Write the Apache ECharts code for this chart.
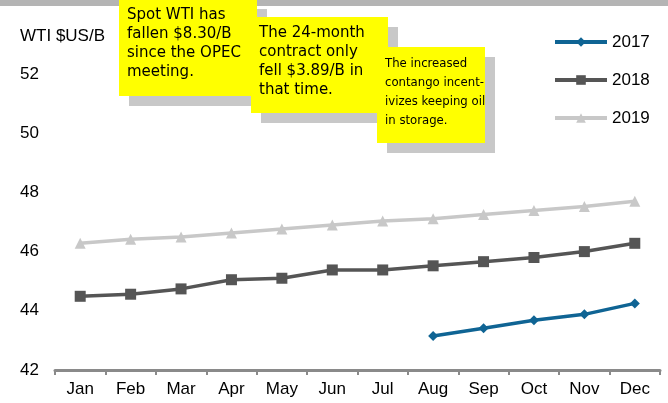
<!DOCTYPE html>
<html>
<head>
<meta charset="utf-8">
<script src="https://cdn.jsdelivr.net/npm/echarts@6/dist/echarts.min.js"></script>
<style>
  html, body { margin: 0; padding: 0; background: #fff; }
  #container { width: 668px; height: 403px; }
</style>
</head>
<body>
<div id="container"></div>
<script>
var months = ['Jan', 'Feb', 'Mar', 'Apr', 'May', 'Jun', 'Jul', 'Aug', 'Sep', 'Oct', 'Nov', 'Dec'];
var wti2017 = [null, null, null, null, null, null, null, 43.15, 43.41, 43.68, 43.88, 44.25];
var wti2018 = [44.49, 44.56, 44.74, 45.05, 45.10, 45.38, 45.38, 45.52, 45.66, 45.80, 46.00, 46.28];
var wti2019 = [46.28, 46.42, 46.49, 46.63, 46.76, 46.90, 47.03, 47.11, 47.25, 47.39, 47.52, 47.70];
var yTicks = [42, 44, 46, 48, 50, 52];

var notes = [
    'Spot WTI has\nfallen $8.30/B\nsince the OPEC\nmeeting.',
    'The 24-month\ncontract only\nfell $3.89/B in\nthat time.',
    'The increased\ncontango incent-\nivizes keeping oil\nin storage.'
];

var dom = document.getElementById('container');
var myChart = echarts.init(dom);

// yellow call-out with a grey drop shadow
function callout(x, y, w, h, text, font, z) {
    return [
        { type: 'rect', z: z, shape: { x: x + 10, y: y + 10, width: w, height: h },
          style: { fill: '#c8c8c8' } },
        { type: 'rect', z: z + 1, shape: { x: x, y: y, width: w, height: h },
          style: { fill: '#ffff00' } },
        { type: 'text', z: z + 2, x: x + 8, y: y + 7,
          style: { text: text, fill: '#000', font: font, lineHeight: 19 } }
    ];
}

var labelFont = { color: '#000', fontSize: 17, fontFamily: 'Liberation Sans' };

option = {
    animation: false,
    grid: { left: 55, right: 8, top: 74, bottom: 33 },
    xAxis: {
        type: 'category',
        data: months,
        boundaryGap: true,
        axisLine: { lineStyle: { color: '#8a8a8a', width: 3 } },
        axisTick: { show: true, length: 5, lineStyle: { color: '#8a8a8a', width: 2 } },
        axisLabel: Object.assign({ margin: 11 }, labelFont),
        splitLine: { show: false }
    },
    yAxis: {
        type: 'value',
        min: yTicks[0],
        max: yTicks[yTicks.length - 1],
        interval: 2,
        axisLine: { show: false },
        axisTick: { show: false },
        splitLine: { show: false },
        axisLabel: Object.assign({ align: 'left', margin: 35 }, labelFont)
    },
    legend: {
        orient: 'vertical',
        left: 548,
        top: 27,
        itemWidth: 52,
        itemHeight: 12,
        itemGap: 18,
        lineStyle: { width: 4 },
        textStyle: { color: '#000', fontSize: 17, fontFamily: 'Liberation Sans', lineHeight: 20 },
        data: ['2017', '2018', '2019']
    },
    series: [
        { name: '2017', type: 'line', data: wti2017, symbol: 'diamond', symbolSize: 10,
          color: '#0f6494', lineStyle: { width: 3.5 }, itemStyle: { color: '#0f6494' }, z: 4 },
        { name: '2018', type: 'line', data: wti2018, symbol: 'rect', symbolSize: 11,
          color: '#555555', lineStyle: { width: 3.5 }, itemStyle: { color: '#555555' }, z: 3 },
        { name: '2019', type: 'line', data: wti2019, symbol: 'triangle', symbolSize: 11,
          color: '#c8c8c8', lineStyle: { width: 3.5 }, itemStyle: { color: '#c8c8c8' }, z: 2 }
    ],
    graphic: [
        { type: 'rect', z: 1, shape: { x: 0, y: 0, width: 668, height: 6 }, style: { fill: '#b4b4b4' } },
        { type: 'text', z: 1, x: 20, y: 28,
          style: { text: 'WTI $US/B', fill: '#000', font: '17px "Liberation Sans"' } }
    ]
        .concat(callout(119, -1, 138, 97, notes[0], '15px "DejaVu Sans"', 10))
        .concat(callout(251, 17, 137, 96, notes[1], '15px "DejaVu Sans"', 20))
        .concat(callout(377, 47, 108, 96, notes[2], '13px "DejaVu Sans Condensed"', 30))
};

if (option && typeof option === 'object') {
    myChart.setOption(option, true);
}
</script>
</body>
</html>
